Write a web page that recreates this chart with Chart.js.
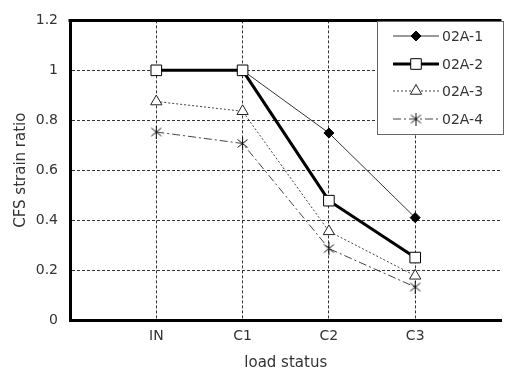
<!DOCTYPE html>
<html>
<head>
<meta charset="utf-8">
<script src="https://cdn.jsdelivr.net/npm/chart.js@4.4.1/dist/chart.umd.min.js"></script>
<style>
  html, body { margin: 0; padding: 0; background: #fff; }
</style>
</head>
<body>
<canvas id="chart" width="510" height="376"></canvas>
<script>
// categories (blank slots at both ends, like the original sheet)
const categories = ["", "IN", "C1", "C2", "C3", ""];
const seriesNames = ["02A-1", "02A-2", "02A-3", "02A-4"];
const s02A1 = [null, 1.0, 1.0, 0.749, 0.41, null];
const s02A2 = [null, 1.0, 1.0, 0.478, 0.25, null];
const s02A3 = [null, 0.875, 0.836, 0.355, 0.177, null];
const s02A4 = [null, 0.753, 0.707, 0.286, 0.132, null];
const yTicks = [0, 0.2, 0.4, 0.6, 0.8, 1, 1.2];

Chart.defaults.font.family = "'DejaVu Sans', sans-serif";
Chart.defaults.font.size = 14;
Chart.defaults.color = "#333";

// asterisk marker: vertical bar + X
function makeStar() {
  const c = document.createElement("canvas");
  c.width = 13; c.height = 13;
  const g = c.getContext("2d");
  g.strokeStyle = "#111";
  g.lineWidth = 1;
  g.beginPath();
  g.moveTo(6.5, 0); g.lineTo(6.5, 13);
  g.moveTo(1.5, 2.5); g.lineTo(11.5, 10.5);
  g.moveTo(11.5, 2.5); g.lineTo(1.5, 10.5);
  g.stroke();
  return c;
}
const starMark = makeStar();

// top frame line + boxed legend with line samples
const frameLegend = {
  id: "frameLegend",
  afterDatasetsDraw(chart) {
    const { ctx, chartArea: a } = chart;
    ctx.save();
    ctx.strokeStyle = "#000";
    ctx.lineWidth = 3;
    ctx.beginPath();
    ctx.moveTo(a.left - 1.5, a.top);
    ctx.lineTo(a.right, a.top);
    ctx.stroke();

    const bx = 377, by = 21, bw = 126, bh = 113;
    ctx.fillStyle = "#fff";
    ctx.fillRect(bx, by, bw, bh);
    ctx.strokeStyle = "#666";
    ctx.lineWidth = 1;
    ctx.strokeRect(bx + 0.5, by + 0.5, bw, bh);

    const rows = [36, 64, 91, 119];
    chart.data.datasets.forEach((ds, i) => {
      const y = rows[i];
      ctx.save();
      ctx.strokeStyle = ds.borderColor;
      ctx.lineWidth = ds.borderWidth;
      ctx.setLineDash(ds.borderDash || []);
      ctx.beginPath();
      ctx.moveTo(393, y);
      ctx.lineTo(439, y);
      ctx.stroke();
      ctx.restore();

      ctx.save();
      ctx.fillStyle = ds.pointBackgroundColor;
      ctx.strokeStyle = ds.pointBorderColor;
      ctx.lineWidth = ds.pointBorderWidth;
      Chart.helpers.drawPoint(ctx, {
        pointStyle: ds.pointStyle,
        radius: ds.pointRadius,
        borderWidth: ds.pointBorderWidth,
        rotation: 0
      }, 416, y);
      ctx.restore();

      ctx.fillStyle = "#333";
      ctx.font = "14px 'DejaVu Sans', sans-serif";
      ctx.textBaseline = "middle";
      ctx.textAlign = "left";
      ctx.fillText(ds.label, 442, y + 1);
    });
    ctx.restore();
  }
};

new Chart(document.getElementById("chart"), {
  type: "line",
  data: {
    labels: categories,
    datasets: [
      {
        label: seriesNames[0], data: s02A1, order: 1,
        borderColor: "#333", borderWidth: 1,
        pointStyle: "rectRot", pointRadius: 5,
        pointBackgroundColor: "#000", pointBorderColor: "#000", pointBorderWidth: 1,
      },
      {
        label: seriesNames[1], data: s02A2, order: 0,
        borderColor: "#000", borderWidth: 3,
        pointStyle: "rect", pointRadius: 7.5,
        pointBackgroundColor: "#fff", pointBorderColor: "#000", pointBorderWidth: 1,
      },
      {
        label: seriesNames[2], data: s02A3, order: 2,
        borderColor: "#444", borderWidth: 1, borderDash: [2, 2],
        pointStyle: "triangle", pointRadius: 6.5,
        pointBackgroundColor: "#fff", pointBorderColor: "#222", pointBorderWidth: 1,
      },
      {
        label: seriesNames[3], data: s02A4, order: 3,
        borderColor: "#444", borderWidth: 1, borderDash: [8, 3, 2, 3],
        pointStyle: starMark, pointRadius: 6,
        pointBackgroundColor: "#fff", pointBorderColor: "#222", pointBorderWidth: 1,
      },
    ],
  },
  options: {
    responsive: false,
    animation: false,
    layout: { padding: { top: 12, right: 0, left: 0, bottom: 0 } },
    plugins: { legend: { display: false }, tooltip: { enabled: false } },
    scales: {
      x: {
        offset: false,
        grid: {
          color: (c) => (c.tick && c.tick.label ? "#333" : "rgba(0,0,0,0)"),
          drawTicks: false,
        },
        border: { color: "#000", width: 3, dash: [3, 2] },
        ticks: { autoSkip: false, maxRotation: 0, padding: 8 },
        title: { display: true, text: "load status", font: { size: 15 }, padding: { top: 11 } },
        afterFit: (s) => { s.height = 56; },
      },
      y: {
        min: 0,
        max: 1.2,
        afterBuildTicks: (s) => { s.ticks = yTicks.map((v) => ({ value: v })); },
        grid: { color: "#333", drawTicks: false },
        border: { color: "#000", width: 3, dash: [3, 2] },
        ticks: { padding: 12, callback: (v) => String(+v.toFixed(1)) },
        title: { display: true, text: "CFS strain ratio", font: { size: 15 }, padding: { top: 12, bottom: 0 } },
        afterFit: (s) => { s.width = 70; },
      },
    },
  },
  plugins: [frameLegend],
});
</script>
</body>
</html>
